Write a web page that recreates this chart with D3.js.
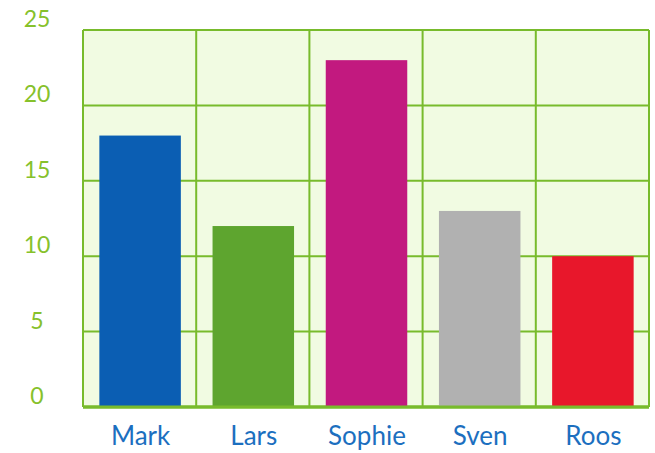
<!DOCTYPE html>
<html><head><meta charset="utf-8">
<script src="https://cdn.jsdelivr.net/npm/d3@7"></script>
<style>html,body{margin:0;padding:0;background:#fff;}svg{display:block;}</style>
</head><body>
<svg id="chart" width="655" height="453"></svg>
<script>
const categories = ["Mark", "Lars", "Sophie", "Sven", "Roos"];
const values = [18, 12, 23, 13, 10];
const barColors = ["#0b5eb3", "#5ea52f", "#c2197f", "#b1b1b1", "#e8172b"];
const yTicks = [0, 5, 10, 15, 20, 25];

const svg = d3.select("#chart");
const m = {left: 83, right: 6, top: 30, bottom: 46};
const W = 655, H = 453;
const x = d3.scaleBand().domain(categories).range([m.left, W - m.right]).paddingInner(0).paddingOuter(0);
const y = d3.scaleLinear().domain([0, 25]).range([H - m.bottom, m.top]);

// background
svg.append("rect").attr("x", m.left).attr("y", m.top)
  .attr("width", W - m.right - m.left).attr("height", H - m.bottom - m.top)
  .attr("fill", "#f1fbe2");

const gridColor = "#78bb2c";
// horizontal grid
svg.append("g").selectAll("line").data(yTicks).join("line")
  .attr("x1", m.left).attr("x2", W - m.right)
  .attr("y1", d => y(d)).attr("y2", d => y(d))
  .attr("stroke", gridColor).attr("stroke-width", d => d === 0 ? 3 : 2);
// vertical grid
const vx = categories.map(c => x(c)).concat([x(categories[categories.length-1]) + x.bandwidth()]);
svg.append("g").selectAll("line").data(vx).join("line")
  .attr("x1", d => d).attr("x2", d => d)
  .attr("y1", m.top).attr("y2", H - m.bottom)
  .attr("stroke", gridColor).attr("stroke-width", 2);

// bars
const bw = x.bandwidth() * 0.72;
svg.append("g").selectAll("rect").data(categories).join("rect")
  .attr("x", d => x(d) + (x.bandwidth() - bw) / 2 + 0.5)
  .attr("width", bw)
  .attr("y", (d, i) => y(values[i]))
  .attr("height", (d, i) => y(0) - y(values[i]))
  .attr("fill", (d, i) => barColors[i]);

// redraw bottom axis line on top
svg.append("line").attr("x1", m.left).attr("x2", W - m.right)
  .attr("y1", y(0)).attr("y2", y(0)).attr("stroke", gridColor).attr("stroke-width", 3);

// y labels
svg.append("g").selectAll("text").data(yTicks).join("text")
  .attr("x", 37).attr("y", d => y(d) - 3)
  .attr("text-anchor", "middle")
  .attr("font-family", "Lato, sans-serif").attr("font-size", 23)
  .attr("fill", "#86c12b")
  .text(d => d);

// x labels
svg.append("g").selectAll("text").data(categories).join("text")
  .attr("x", d => x(d) + x.bandwidth() / 2 + 1).attr("y", 445)
  .attr("text-anchor", "middle")
  .attr("font-family", "Lato, sans-serif").attr("font-size", 26)
  .attr("fill", "#1c6fbf")
  .text(d => d);
</script>
</body></html>
